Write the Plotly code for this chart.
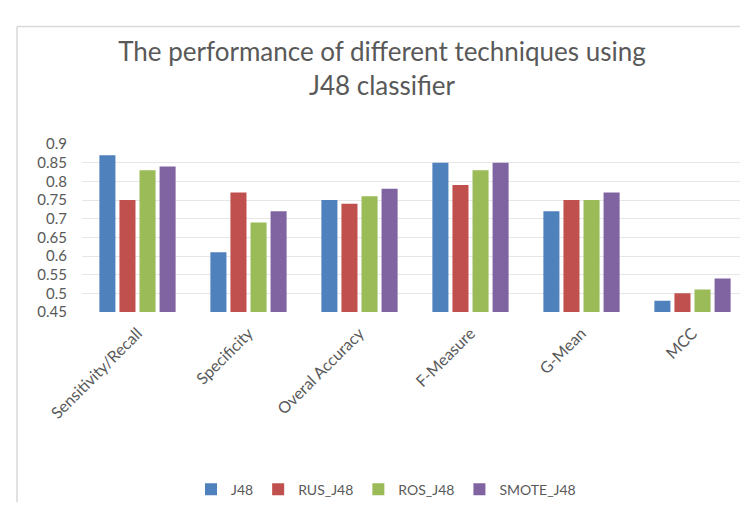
import plotly.graph_objects as go

categories = ["Sensitivity/Recall", "Specificity", "Overal Accuracy", "F-Measure", "G-Mean", "MCC"]
series_names = ["J48", "RUS_J48", "ROS_J48", "SMOTE_J48"]
j48 = [0.87, 0.61, 0.75, 0.85, 0.72, 0.48]
rus_j48 = [0.75, 0.77, 0.74, 0.79, 0.75, 0.50]
ros_j48 = [0.83, 0.69, 0.76, 0.83, 0.75, 0.51]
smote_j48 = [0.84, 0.72, 0.78, 0.85, 0.77, 0.54]
y_ticks = [0.45, 0.5, 0.55, 0.6, 0.65, 0.7, 0.75, 0.8, 0.85, 0.9]
y_tick_labels = ["0.45", "0.5", "0.55", "0.6", "0.65", "0.7", "0.75", "0.8", "0.85", "0.9"]

colors = ["#4F81BD", "#C0504D", "#9BBB59", "#8064A2"]
font_family = "Lato, 'Open Sans', sans-serif"
text_color = "#595959"

fig = go.Figure()
for name, vals, c in zip(series_names, [j48, rus_j48, ros_j48, smote_j48], colors):
    fig.add_trace(go.Bar(x=categories, y=vals, name=name, marker=dict(color=c, line=dict(width=0))))

W, H = 748, 505
ml, mr, mt, mb = 74, 8, 136, 196
pw, ph = W - ml - mr, H - mt - mb

def px_to_paper_x(px):
    return (px - ml) / pw

def px_to_paper_y(py):
    return (H - mb - py) / ph

fig.update_layout(
    width=W, height=H,
    margin=dict(l=ml, r=mr, t=mt, b=mb),
    paper_bgcolor="white", plot_bgcolor="white",
    font=dict(family=font_family, color=text_color, size=14),
    title=dict(text="The performance of different techniques using<br>J48 classifier",
               x=0.5, xanchor="center", y=1 - 53 / H, yanchor="middle",
               font=dict(family=font_family, size=26, color=text_color)),
    barmode="group", bargap=0.277, bargroupgap=0.2,
    showlegend=True,
    legend=dict(orientation="h", x=px_to_paper_x(378), xanchor="center", y=px_to_paper_y(492), yanchor="middle",
                font=dict(size=14, color=text_color), itemwidth=30, traceorder="normal"),
    xaxis=dict(tickangle=-45, showgrid=False, showline=False, ticks="",
               ticklabelstandoff=8,
               tickfont=dict(size=16, color=text_color)),
    yaxis=dict(range=[0.45, 0.9], tickvals=y_ticks, ticktext=y_tick_labels,
               showgrid=True, gridcolor="#E6E6E6", gridwidth=1, zeroline=False,
               showline=False, ticks="", ticklabelstandoff=14,
               tickfont=dict(size=15, color=text_color)),
    shapes=[
        dict(type="line", xref="paper", yref="paper",
             x0=px_to_paper_x(9), x1=px_to_paper_x(748), y0=px_to_paper_y(15), y1=px_to_paper_y(15),
             line=dict(color="#D9D9D9", width=1.5)),
        dict(type="line", xref="paper", yref="paper",
             x0=px_to_paper_x(9), x1=px_to_paper_x(9), y0=px_to_paper_y(15), y1=px_to_paper_y(505),
             line=dict(color="#D9D9D9", width=1.5)),
    ],
)

fig.write_html("out.html")
